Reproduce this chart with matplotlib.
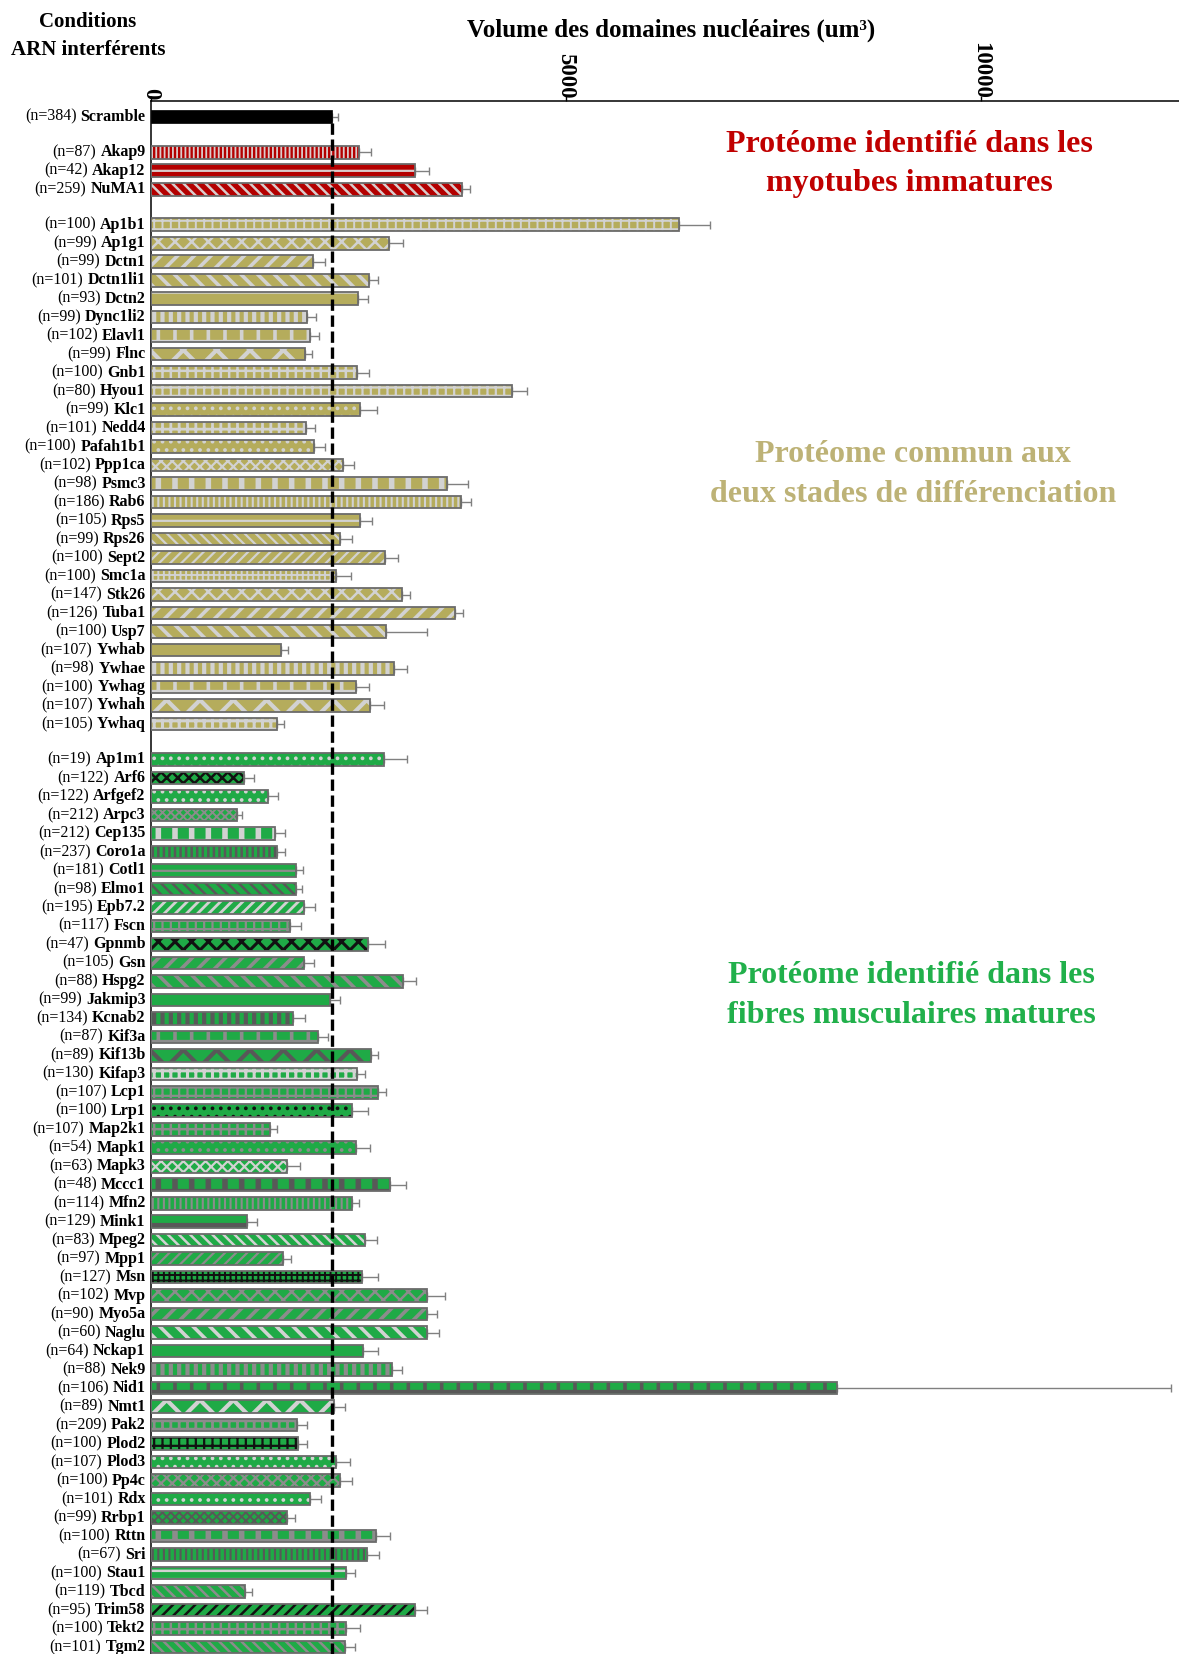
import numpy as np
import matplotlib
matplotlib.use('Agg')
import matplotlib.pyplot as plt

plt.rcParams['font.family'] = ['Liberation Serif', 'DejaVu Serif']
plt.rcParams['hatch.linewidth'] = 1.6

# --- data ---
ctrl_name = 'Scramble'
ctrl_n = 384
ctrl_mean = 2179
ctrl_err = 73

myo_names = ['Akap9', 'Akap12', 'NuMA1']
myo_n = [87, 42, 259]
myo_mean = [2505, 3183, 3745]
myo_err = [144, 172, 100]

com_names = ['Ap1b1', 'Ap1g1', 'Dctn1', 'Dctn1li1', 'Dctn2', 'Dync1li2', 'Elavl1', 'Flnc',
             'Gnb1', 'Hyou1', 'Klc1', 'Nedd4', 'Pafah1b1', 'Ppp1ca', 'Psmc3', 'Rab6', 'Rps5',
             'Rps26', 'Sept2', 'Smc1a', 'Stk26', 'Tuba1', 'Usp7', 'Ywhab', 'Ywhae', 'Ywhag',
             'Ywhah', 'Ywhaq']
com_n = [100, 99, 99, 101, 93, 99, 102, 99, 100, 80, 99, 101, 100, 102, 98, 186, 105,
         99, 100, 100, 147, 126, 100, 107, 98, 100, 107, 105]
com_mean = [6359, 2870, 1958, 2625, 2496, 1882, 1918, 1858, 2488, 4358, 2520, 1866, 1966,
            2319, 3569, 3737, 2520, 2276, 2822, 2231, 3023, 3665, 2838, 1565, 2934, 2476,
            2641, 1524]
com_err = [375, 172, 141, 116, 121, 104, 108, 80, 137, 178, 205, 109, 133, 129, 256, 121,
           141, 144, 156, 177, 100, 93, 490, 88, 157, 153, 169, 81]

fib_names = ['Ap1m1', 'Arf6', 'Arfgef2', 'Arpc3', 'Cep135', 'Coro1a', 'Cotl1', 'Elmo1',
             'Epb7.2', 'Fscn', 'Gpnmb', 'Gsn', 'Hspg2', 'Jakmip3', 'Kcnab2', 'Kif3a',
             'Kif13b', 'Kifap3', 'Lcp1', 'Lrp1', 'Map2k1', 'Mapk1', 'Mapk3', 'Mccc1', 'Mfn2',
             'Mink1', 'Mpeg2', 'Mpp1', 'Msn', 'Mvp', 'Myo5a', 'Naglu', 'Nckap1', 'Nek9',
             'Nid1', 'Nmt1', 'Pak2', 'Plod2', 'Plod3', 'Pp4c', 'Rdx', 'Rrbp1', 'Rttn', 'Sri',
             'Stau1', 'Tbcd', 'Trim58', 'Tekt2', 'Tgm2']
fib_n = [19, 122, 122, 212, 212, 237, 181, 98, 195, 117, 47, 105, 88, 99, 134, 87, 89, 130,
         107, 100, 107, 54, 63, 48, 114, 129, 83, 97, 127, 102, 90, 60, 64, 88, 106, 89, 209,
         100, 107, 100, 101, 99, 100, 67, 100, 119, 95, 100, 101]
fib_mean = [2813, 1119, 1412, 1035, 1496, 1520, 1746, 1746, 1849, 1677, 2617, 1846, 3042,
            2159, 1717, 2018, 2649, 2488, 2733, 2428, 1440, 2476, 1641, 2882, 2420, 1163,
            2585, 1597, 2541, 3328, 3324, 3324, 2553, 2902, 8264, 2211, 1758, 1777, 2231,
            2279, 1922, 1637, 2709, 2605, 2356, 1131, 3183, 2348, 2340]
fib_err = [278, 121, 117, 64, 125, 97, 88, 80, 126, 129, 205, 120, 153, 120, 144, 113, 92,
           93, 97, 185, 80, 165, 157, 193, 92, 120, 136, 92, 200, 221, 128, 144, 188, 121,
           4027, 129, 128, 109, 169, 141, 129, 100, 173, 148, 104, 92, 141, 172, 120]

# --- styles: Excel-like pattern fills approximated with (hatch, hatch colour, hatch width) ---
RED, KHAKI, GREEN = '#b40000', '#b5ac5c', '#1faa46'
LT, MID, DK, BK = '#d2d2d2', '#8c8c8c', '#585858', '#111111'
PK = '#dacccc'

myo_hatch = [('||||', PK, 1.3), ('--', PK, 1.6), ('\\\\\\', PK, 1.8)]
com_hatch = [('++', LT, 1.4), ('xx', LT, 1.8), ('//', LT, 2.6), ('\\\\', LT, 2.6),
             ('-', LT, 3.0), ('||', LT, 3.0), ('+', LT, 2.6), ('x', LT, 3.0),
             ('++', LT, 1.8), ('++', LT, 1.6), ('..', LT, 1.5), ('++', LT, 2.0),
             ('..', LT, 1.5), ('xxx', LT, 1.6), ('+', LT, 4.0), ('|||', LT, 1.5),
             ('--', LT, 1.6), ('\\\\\\', LT, 1.6), ('///', LT, 1.6), ('+++', LT, 1.4),
             ('xx', LT, 1.8), ('//', LT, 2.6), ('\\\\', LT, 2.6), ('-', LT, 3.0),
             ('||', LT, 3.0), ('+', LT, 2.6), ('x', LT, 3.0), ('++', LT, 2.2)]
fib_hatch = [('..', LT, 1.5), ('xxx', BK, 1.8), ('..', LT, 1.5), ('xxxx', MID, 1.4),
             ('+', LT, 4.0), ('|||', DK, 1.8), ('--', MID, 1.6), ('\\\\\\', DK, 1.8),
             ('///', LT, 2.0), ('++', MID, 1.6), ('xx', BK, 2.2), ('//', MID, 2.6),
             ('\\\\', MID, 2.6), ('-', LT, 3.0), ('||', DK, 3.0), ('+', MID, 2.6),
             ('x', DK, 3.0), ('++', LT, 2.2), ('++', MID, 1.6), ('..', BK, 1.5),
             ('++', MID, 1.8), ('..', MID, 1.5), ('xxx', LT, 1.6), ('+', DK, 4.0),
             ('|||', MID, 1.5), ('-', DK, 3.0), ('\\\\\\', LT, 1.8), ('///', MID, 1.6),
             ('+++', BK, 1.4), ('xx', MID, 1.8), ('//', MID, 2.6), ('\\\\', LT, 2.6),
             ('-', DK, 3.0), ('||', MID, 3.0), ('+', DK, 2.6), ('x', LT, 3.0),
             ('++', MID, 2.0), ('++', BK, 1.6), ('..', LT, 1.5), ('xxx', MID, 1.6),
             ('..', LT, 1.5), ('xxxx', DK, 1.4), ('+', MID, 4.0), ('|||', DK, 1.5),
             ('--', LT, 1.8), ('\\\\\\', MID, 1.8), ('///', BK, 1.8), ('++', MID, 1.8),
             ('\\\\\\', MID, 1.8)]

# --- row positions: one row per bar, a blank gap between groups ---
gap = 1.92
y_ctrl = 0.0
y_myo = y_ctrl + gap + np.arange(len(myo_names))
y_com = y_myo[-1] + gap + np.arange(len(com_names))
y_fib = y_com[-1] + gap + np.arange(len(fib_names))

fig = plt.figure(figsize=(11.79, 16.54), dpi=100)
ax = fig.add_axes([0.1279, 0.0, 0.8721, 0.9389])

bh = 0.68
edge = '#6b6b6b'


def draw_bars(ys, means, errs, fill, hatches):
    for y, m, (hat, hcol, hlw) in zip(ys, means, hatches):
        with plt.rc_context({'hatch.linewidth': hlw}):
            bars = ax.barh(y, m, height=bh, color=fill, edgecolor=hcol, hatch=hat,
                           linewidth=0, zorder=3)
        for b in bars:
            if hasattr(b, 'set_hatch_linewidth'):
                b.set_hatch_linewidth(hlw)
        ax.barh(y, m, height=bh, color='none', edgecolor=edge, linewidth=1.3, zorder=4)
    ax.errorbar(means, ys, xerr=[np.zeros(len(means)), errs], fmt='none', ecolor='#808080',
                elinewidth=1.0, capsize=2.8, capthick=1.0, zorder=2)


ax.barh(y_ctrl, ctrl_mean, height=bh, color='black', edgecolor='black', linewidth=0.5, zorder=4)
ax.errorbar([ctrl_mean], [y_ctrl], xerr=[[0], [ctrl_err]], fmt='none', ecolor='#808080',
            elinewidth=1.0, capsize=2.8, capthick=1.0, zorder=2)
draw_bars(y_myo, myo_mean, myo_err, RED, myo_hatch)
draw_bars(y_com, com_mean, com_err, KHAKI, com_hatch)
draw_bars(y_fib, fib_mean, fib_err, GREEN, fib_hatch)

y_bottom = y_fib[-1] + 0.38
ax.set_ylim(y_bottom, -0.85)
ax.set_xlim(0, 12390)

# reference line at the control mean
ax.vlines(ctrl_mean, y_ctrl + bh / 2, y_bottom, colors='black', linestyles=(0, (3.4, 1.4)),
          linewidth=2.4, zorder=6)

# axes styling
for s in ['right', 'bottom']:
    ax.spines[s].set_visible(False)
for s in ['top', 'left']:
    ax.spines[s].set_linewidth(1.1)
ax.xaxis.tick_top()
ax.set_xticks([0, 5000, 10000])
ax.set_xticklabels(['0', '5000', '10000'], rotation=-90, fontweight='bold', fontsize=16.5)
ax.tick_params(axis='x', length=3.5, width=1, pad=-2)
ax.set_yticks([])

# row labels: "(n=..)" normal + gene name bold
all_y = np.concatenate([[y_ctrl], y_myo, y_com, y_fib])
all_names = [ctrl_name] + myo_names + com_names + fib_names
all_n = [ctrl_n] + myo_n + com_n + fib_n
trans = ax.get_yaxis_transform()
for y, nm, nn in zip(all_y, all_names, all_n):
    t = ax.text(-0.005, y, nm, transform=trans, ha='right', va='center',
                fontweight='bold', fontsize=11.5)
    ax.annotate(f'(n={nn})', xy=(0, 0.5), xycoords=t, xytext=(-3, 0),
                textcoords='offset points', ha='right', va='center', fontsize=11.5)

# headers
fig.text(88 / 1179, 1 - 36 / 1654, 'Conditions\nARN interférents', ha='center', va='center',
         fontweight='bold', fontsize=15, linespacing=1.5)
fig.text(671 / 1179, 1 - 30 / 1654, 'Volume des domaines nucléaires (um³)', ha='center',
         va='center', fontweight='bold', fontsize=18)

# group annotations
fig.text(909 / 1179, 1 - 164 / 1654, 'Protéome identifié dans les\nmyotubes immatures',
         ha='center', va='center', fontweight='bold', fontsize=23, color='#c00000',
         linespacing=1.5)
fig.text(913 / 1179, 1 - 475 / 1654, 'Protéome commun aux\ndeux stades de différenciation',
         ha='center', va='center', fontweight='bold', fontsize=23, color='#bdb276',
         linespacing=1.5)
fig.text(911 / 1179, 1 - 995 / 1654, 'Protéome identifié dans les\nfibres musculaires matures',
         ha='center', va='center', fontweight='bold', fontsize=23, color='#21b04b',
         linespacing=1.5)

fig.savefig('out.png', dpi=100)
